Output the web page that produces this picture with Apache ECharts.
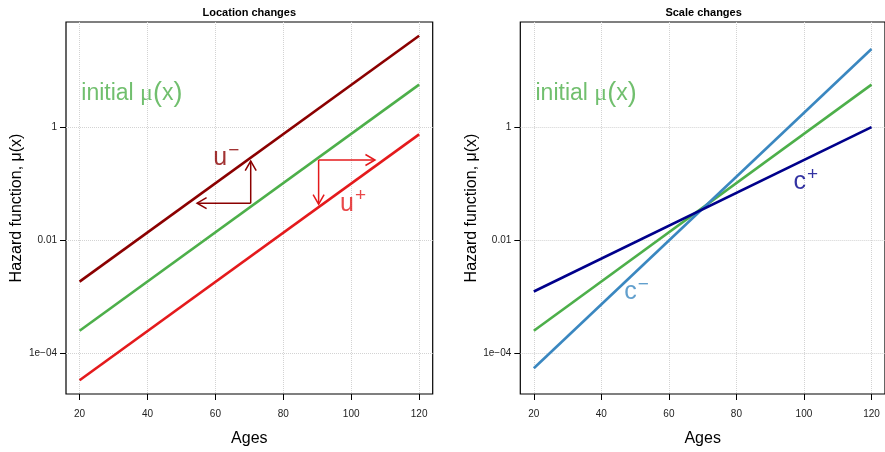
<!DOCTYPE html>
<html><head><meta charset="utf-8">
<script src="https://cdn.jsdelivr.net/npm/echarts@6/dist/echarts.min.js"></script>
<style>html,body{margin:0;padding:0;background:#fff}#c{width:885px;height:452px}</style>
</head><body><div id="c"></div>
<script>
// ---- data ----
const ages = [20, 120];
const initialMu = [2.49e-4, 5.66];
const locMinus = [1.845e-3, 41.4];
const locPlus = [3.31e-5, 0.743];
const scaleMinus = [5.4e-5, 24.2];
const scalePlus = [1.23e-3, 1.0];
const xTicks = [20, 40, 60, 80, 100, 120];
const yTicks = [1e-4, 0.01, 1];
const yTickLabels = ['1e\u221204', '0.01', '1'];
const arrowsUMinus = [[70.4, 0.045, 70.4, 0.251], [70.4, 0.045, 54.6, 0.045]];
const arrowsUPlus = [[90.4, 0.262, 90.4, 0.0433], [90.4, 0.262, 107.0, 0.262]];
const titles = ['Location changes', 'Scale changes'];

const C = {green:'#4DAF4A', darkred:'#8B0000', red:'#E41A1C', blue:'#3A87C0', navy:'#00008B'};
const FONT = '"Liberation Sans", Arial, sans-serif';
const SERIF = '"Liberation Serif", "DejaVu Serif", serif';
const pts = vals => ages.map((a, i) => [a, vals[i]]);

function xAxis(g) {
  return {gridIndex:g, type:'value', min:16, max:124,
    name:'Ages', nameLocation:'middle', nameGap:37,
    nameTextStyle:{fontSize:16, color:'#000', fontFamily:FONT},
    axisLine:{show:false},
    axisTick:{show:true, customValues:xTicks, length:6, lineStyle:{color:'#000'}},
    axisLabel:{customValues:xTicks, margin:15, fontSize:10, color:'#222', fontFamily:FONT},
    splitLine:{show:true, lineStyle:{color:'#d3d3d3', type:'dotted', width:1}}};
}
function yAxis(g) {
  return {gridIndex:g, type:'log', logBase:10, min:1.888e-5, max:72.6,
    name:'Hazard function, \u03bc(x)', nameLocation:'middle', nameGap:38,
    nameTextStyle:{fontSize:16, color:'#000', fontFamily:FONT},
    axisLine:{show:false},
    axisTick:{show:true, customValues:yTicks, length:6, lineStyle:{color:'#000'}},
    axisLabel:{customValues:yTicks, margin:9, fontSize:10, color:'#222', fontFamily:FONT,
      formatter: v => { const e = Math.round(Math.log10(v)); const i = yTicks.findIndex(t => Math.round(Math.log10(t)) === e); return i >= 0 ? yTickLabels[i] : ''; }},
    splitLine:{show:true, lineStyle:{color:'#d3d3d3', type:'dotted', width:1}}};
}
function line(g, vals, color) {
  return {type:'line', xAxisIndex:g, yAxisIndex:g, data:pts(vals), showSymbol:false, symbol:'none',
    lineStyle:{color, width:2.6}, silent:true, animation:false, z:3};
}
function arrows(g, data, color) {
  return {type:'custom', xAxisIndex:g, yAxisIndex:g, data, animation:false, silent:true, z:4,
    renderItem(params, api) {
      const p1 = api.coord([api.value(0), api.value(1)]);
      const p2 = api.coord([api.value(2), api.value(3)]);
      const ang = Math.atan2(p2[1]-p1[1], p2[0]-p1[0]);
      const L = 11, a = Math.PI/6;
      const h1 = [p2[0]-L*Math.cos(ang-a), p2[1]-L*Math.sin(ang-a)];
      const h2 = [p2[0]-L*Math.cos(ang+a), p2[1]-L*Math.sin(ang+a)];
      const st = {stroke:color, lineWidth:1.5, fill:null};
      return {type:'group', children:[
        {type:'polyline', shape:{points:[p1, p2]}, style:st},
        {type:'polyline', shape:{points:[h1, p2, h2]}, style:st}]};
    }};
}
function label(g, pos, text, color, rich) {
  return {type:'scatter', xAxisIndex:g, yAxisIndex:g, symbolSize:0, silent:true, animation:false, z:5,
    data:[{value:pos}],
    label:{show:true, position:'inside', align:'left', verticalAlign:'middle', formatter:text,
      color, fontSize:23, fontFamily:FONT, rich}};
}
function supRich(color) {
  return {b:{fontSize:25, color, fontFamily:FONT, lineHeight:34},
          s:{fontSize:19, color, fontFamily:FONT, verticalAlign:'top', lineHeight:6, padding:[0,0,0,1]}};
}
function initRich(color) {
  return {a:{fontSize:23, color, fontFamily:FONT, lineHeight:28},
          m:{fontSize:24, color, fontFamily:SERIF, lineHeight:28},
          p:{fontSize:27, color, fontFamily:FONT, lineHeight:28}};
}
const initText = '{a|initial }{m|\u03bc}{p|(}{a|x}{p|)}';

const chart = echarts.init(document.getElementById('c'), null, {renderer:'canvas'});
chart.setOption({
  animation:false,
  backgroundColor:'#fff',
  graphic:[
    {type:'text', x:249.3, y:13, style:{text:titles[0], align:'center', verticalAlign:'middle', font:'bold 11px '+FONT, fill:'#000'}},
    {type:'text', x:703.6, y:13, style:{text:titles[1], align:'center', verticalAlign:'middle', font:'bold 11px '+FONT, fill:'#000'}}
  ],
  grid:[
    {left:66, top:22, width:366.7, height:372, show:true, borderColor:'#000', borderWidth:1.2, backgroundColor:'transparent'},
    {left:520.3, top:22, width:366.7, height:372, show:true, borderColor:'#000', borderWidth:1.2, backgroundColor:'transparent'}
  ],
  xAxis:[xAxis(0), xAxis(1)],
  yAxis:[yAxis(0), yAxis(1)],
  series:[
    line(0, locMinus, C.darkred),
    line(0, initialMu, C.green),
    line(0, locPlus, C.red),
    arrows(0, arrowsUMinus, C.darkred),
    arrows(0, arrowsUPlus, C.red),
    line(1, initialMu, C.green),
    line(1, scaleMinus, C.blue),
    line(1, scalePlus, C.navy),
    label(0, [20.5, 3.98], initText, C.green, initRich(C.green)),
    label(0, [59.4, 0.286], '{b|u}{s|\u2212}', C.darkred, supRich(C.darkred)),
    label(0, [96.7, 0.0442], '{b|u}{s|+}', C.red, supRich(C.red)),
    label(1, [20.5, 3.98], initText, C.green, initRich(C.green)),
    label(1, [96.9, 0.106], '{b|c}{s|+}', C.navy, supRich(C.navy)),
    label(1, [46.8, 0.0012], '{b|c}{s|\u2212}', C.blue, supRich(C.blue))
  ]
});
</script>
</body></html>
